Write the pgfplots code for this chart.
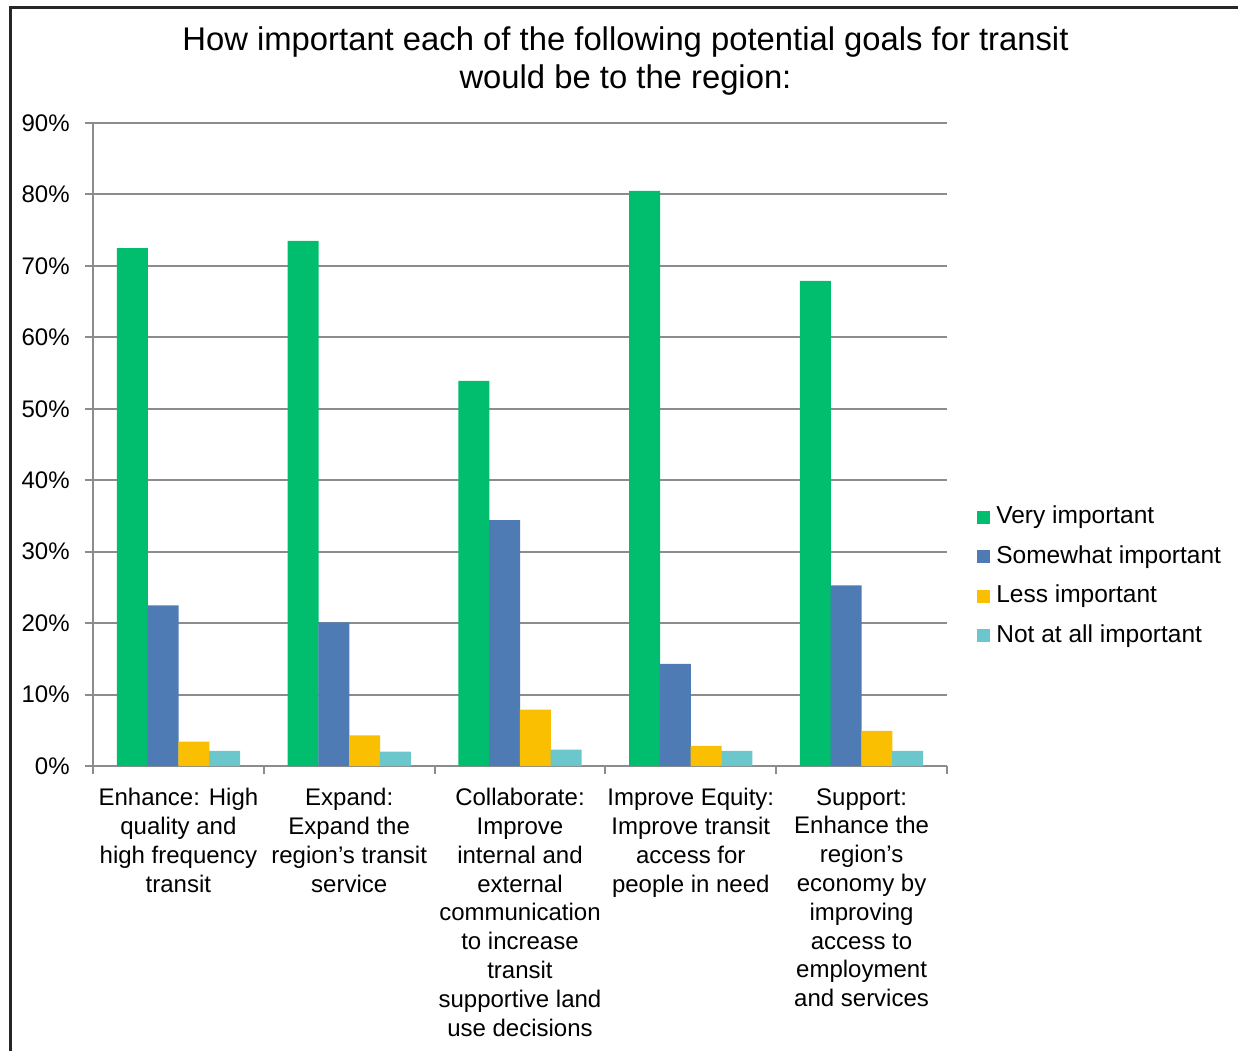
\documentclass[border=0pt]{standalone}
\usepackage{fontspec}
\setmainfont{Liberation Sans}
\usepackage{pgfplots}
\pgfplotsset{compat=1.18}
\definecolor{cgreen}{RGB}{0,190,110}
\definecolor{cblue}{RGB}{79,123,181}
\definecolor{cyellow}{RGB}{249,191,0}
\definecolor{ccyan}{RGB}{108,199,204}
\definecolor{gridgray}{RGB}{140,140,140}
\newcommand{\lblfont}{\fontsize{12}{14.4}\selectfont}
\begin{document}
\begin{tikzpicture}
\path[use as bounding box] (0,0) rectangle (619pt,525.5pt);
\draw[line width=1.4pt, black!85] (5.25pt,0) -- (5.25pt,521.75pt) -- (619pt,521.75pt);
\begin{axis}[
  at={(46.5pt,142.5pt)}, anchor=south west,
  scale only axis, width=427pt, height=321.5pt,
  ybar, bar width=0.1815,
  xmin=-0.5, xmax=4.5, ymin=0, ymax=90,
  axis x line*=bottom, axis y line*=left,
  axis line style={gridgray, line width=1pt},
  tick style={gridgray, line width=1pt},
  tick align=outside, major tick length=4pt,
  ymajorgrids, grid style={gridgray, line width=1pt},
  ytick={0,10,...,90},
  yticklabel={\pgfmathprintnumber[assume math mode=true]{\tick}\%},
  yticklabel style={font=\lblfont, inner sep=0pt, xshift=-7.5pt},
  xtick={-0.5,0.5,1.5,2.5,3.5,4.5},
  xticklabels={},
  extra x ticks={0,1,2,3,4},
  extra x tick style={major tick length=0pt},
  extra x tick labels={
    {Enhance: High\\quality and\\high frequency\\transit},
    {Expand:\\Expand the\\region’s transit\\service},
    {Collaborate:\\Improve\\internal and\\external\\communication\\to increase\\transit\\supportive land\\use decisions},
    {Improve Equity:\\Improve transit\\access for\\people in need},
    {Support:\\Enhance the\\region’s\\economy by\\improving\\access to\\employment\\and services}},
  xticklabel style={font=\lblfont, align=center, anchor=north, inner sep=0pt, yshift=-11pt},
  legend style={at={(1.0351,0.2947)}, anchor=west, draw=none, fill=none,
    font=\fontsize{12.25}{14.4}\selectfont, inner sep=0pt, row sep=8.25pt, column sep=3pt,
    nodes={inner sep=0pt, text height=9pt, text depth=2.5pt}},
  legend cell align=left,
  legend image code/.code={\draw[#1, draw=none] (0pt,-3.25pt) rectangle (6.5pt,3.25pt);},
]
\addplot[fill=cgreen, draw=none, bar shift=-0.27] coordinates {(0,72.5) (1,73.5) (2,53.9) (3,80.5) (4,67.9)};
\addplot[fill=cblue, draw=none, bar shift=-0.09] coordinates {(0,22.5) (1,20.1) (2,34.4) (3,14.3) (4,25.3)};
\addplot[fill=cyellow, draw=none, bar shift=0.09] coordinates {(0,3.4) (1,4.3) (2,7.9) (3,2.8) (4,4.9)};
\addplot[fill=ccyan, draw=none, bar shift=0.27] coordinates {(0,2.1) (1,2.0) (2,2.3) (3,2.1) (4,2.1)};
\legend{Very important, Somewhat important, Less important, Not at all important}
\end{axis}
\node[align=center, font=\fontsize{16.4}{19}\selectfont, anchor=center] at (312.75pt,495pt)
  {How important each of the following potential goals for transit\\would be to the region:};
\end{tikzpicture}
\end{document}
